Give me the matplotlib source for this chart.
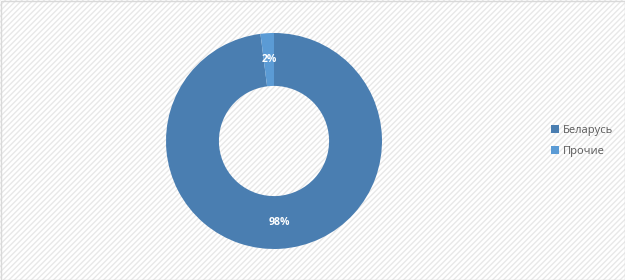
import matplotlib
matplotlib.use("Agg")
import matplotlib.pyplot as plt
from matplotlib.patches import Rectangle

categories = ["Беларусь", "Прочие"]
values = [98, 2]
colors = ["#4a7eb1", "#5b9bd5"]

plt.rcParams['font.family'] = ['Open Sans', 'DejaVu Sans']
plt.rcParams['hatch.linewidth'] = 1.0

fig = plt.figure(figsize=(6.25, 2.8), dpi=100)
fig.patch.set_facecolor("white")
bg = Rectangle((0, 0), 1, 1, transform=fig.transFigure, facecolor="white",
               edgecolor="#e8e8e8", hatch="//////", linewidth=0, zorder=-10)
fig.patches.append(bg)
border = Rectangle((0.5/625, 0.5/280), 1 - 1/625, 1 - 1/280, transform=fig.transFigure,
                   facecolor="none", edgecolor="#d9d9d9", linewidth=1, zorder=10)
fig.patches.append(border)

ax = fig.add_axes([166/625, 31/280, 216/625, 216/280])
ax.set_facecolor("none")
wedges, texts, autotexts = ax.pie(
    values, colors=colors, startangle=90, counterclock=False,
    radius=1.0, wedgeprops=dict(width=0.49, linewidth=0),
    autopct=lambda p: f"{p:.0f}%", pctdistance=0.755,
    textprops=dict(color="white", fontsize=7.5, fontweight="bold"))
ax.set_xlim(-1, 1)
ax.set_ylim(-1, 1)
ax.set_aspect("equal")
ax.axis("off")

leg = fig.legend(wedges, categories, loc="center left",
                 bbox_to_anchor=(541/625, 139/280), frameon=False,
                 fontsize=8, handlelength=0.7, handleheight=0.7,
                 handletextpad=0.4, labelspacing=0.9, labelcolor="#595959")

fig.savefig("out.png", dpi=100, facecolor=fig.get_facecolor())
